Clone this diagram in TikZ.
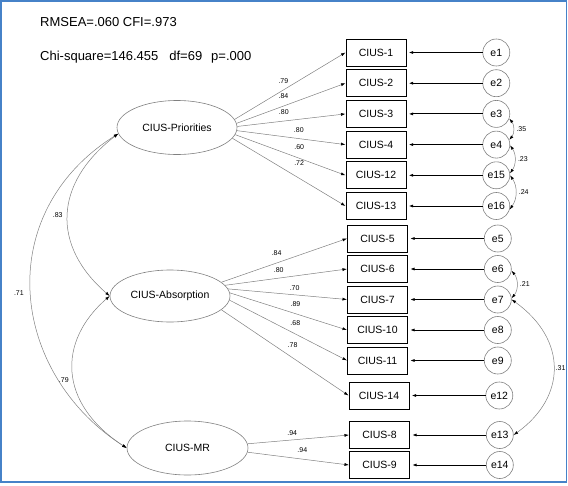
\documentclass[tikz,border=0pt]{standalone}
\usepackage{fontspec}
\setmainfont{Liberation Sans}
\usetikzlibrary{arrows.meta,positioning,shapes.geometric}

\definecolor{frameblue}{RGB}{70,130,200}

\begin{document}
\begin{tikzpicture}[
    x=1pt, y=-1pt,
    >={Latex[length=4.5pt,width=3pt]},
    item/.style={rectangle, draw, line width=1pt, minimum width=60pt, minimum height=27pt, inner sep=0pt, font=\fontsize{10.5}{12}\selectfont},
    factor/.style={ellipse, draw=gray, line width=0.6pt, minimum width=120pt, minimum height=54pt, inner sep=0pt, font=\fontsize{10.5}{12}\selectfont},
    errnode/.style={circle, draw=gray, line width=0.6pt, minimum size=27pt, inner sep=0pt, font=\fontsize{10.5}{12}\selectfont},
    load/.style={-{Latex[length=4.5pt,width=3pt,color=black]}, draw=gray, line width=0.5pt},
    errpath/.style={->, line width=1pt, shorten >=2pt},
    cov/.style={{Latex[length=4.5pt,width=3pt,color=black]}-{Latex[length=4.5pt,width=3pt,color=black]}, draw=gray, line width=0.5pt},
    coef/.style={font=\fontsize{7}{8}\selectfont, inner sep=1pt},
    fitstat/.style={anchor=base west, font=\fontsize{13}{15}\selectfont, inner sep=0pt}
    ]

    \useasboundingbox (0,0) rectangle (568,485);
    \draw[frameblue, line width=1.5pt] (0.75,0.75) rectangle (566.25,482);

    % Fit indices
    \node[fitstat] (fit1) at (40,26) {RMSEA=.060 CFI=.973};
    \node[fitstat] (fit2) at (40,60) {Chi-square=146.455\hspace{11pt}df=69\hspace{9pt}p=.000};

    % Latent factors
    \node[factor] (pri) at (177,127.5) {CIUS-Priorities};
    \node[factor, minimum height=52pt] (abs) at (170,296) {CIUS-Absorption};
    \node[factor, minimum width=121pt] (mr) at (187.5,448) {CIUS-MR};

    % Observed items: priorities
    \node[item] (b1) at (376,52.5) {CIUS-1};
    \node[item, below=2.7pt of b1] (b2) {CIUS-2};
    \node[item, below=2.7pt of b2] (b3) {CIUS-3};
    \node[item, below=2.7pt of b3] (b4) {CIUS-4};
    \node[item, below=2.7pt of b4] (b12) {CIUS-12};
    \node[item, below=2.7pt of b12] (b13) {CIUS-13};

    % Observed items: absorption
    \node[item] (b5) at (377.5,238.5) {CIUS-5};
    \node[item, below=2.5pt of b5] (b6) {CIUS-6};
    \node[item, below=2.5pt of b6] (b7) {CIUS-7};
    \node[item, below=2.5pt of b7] (b10) {CIUS-10};
    \node[item, below=2.5pt of b10] (b11) {CIUS-11};
    \node[item] (b14) at (379,395.5) {CIUS-14};

    % Observed items: MR
    \node[item] (b8) at (379.5,435) {CIUS-8};
    \node[item, below=2pt of b8] (b9) {CIUS-9};

    % Error terms
    \node[errnode, right=76pt of b1] (e1) {e1};
    \node[errnode, right=76pt of b2] (e2) {e2};
    \node[errnode, right=76pt of b3] (e3) {e3};
    \node[errnode, right=76pt of b4] (e4) {e4};
    \node[errnode, right=76pt of b12] (e15) {e15};
    \node[errnode, right=76pt of b13] (e16) {e16};
    \node[errnode, right=76pt of b5] (e5) {e5};
    \node[errnode, right=76pt of b6] (e6) {e6};
    \node[errnode, right=76pt of b7] (e7) {e7};
    \node[errnode, right=76pt of b10] (e8) {e8};
    \node[errnode, right=76pt of b11] (e9) {e9};
    \node[errnode, right=76pt of b14] (e12) {e12};
    \node[errnode, right=76pt of b8] (e13) {e13};
    \node[errnode, right=76pt of b9] (e14) {e14};

    % Loadings
    \draw[load] (pri.8) -- node[coef, pos=0.44, yshift=9pt] {.79} (b1.west);
    \draw[load] (pri.4) -- node[coef, pos=0.43, yshift=9.7pt] {.84} (b2.west);
    \draw[load] (pri.1) -- node[coef, pos=0.43, yshift=8.9pt] {.80} (b3.west);
    \draw[load] (pri.-3) -- node[coef, pos=0.57, yshift=8.2pt] {.80} (b4.west);
    \draw[load] (pri.-7) -- node[coef, pos=0.58, yshift=10.9pt] {.60} (b12.west);
    \draw[load] (pri.-11) -- node[coef, pos=0.59, yshift=14.8pt] {.72} (b13.west);

    \draw[load] (abs.15) -- node[coef, pos=0.44, yshift=9.5pt] {.84} (b5.west);
    \draw[load] (abs.11) -- node[coef, pos=0.44, yshift=8.3pt] {.80} (b6.west);
    \draw[load] (abs.7) -- node[coef, pos=0.56, yshift=6.8pt] {.70} (b7.west);
    \draw[load] (abs.3) -- node[coef, pos=0.56, yshift=9.5pt] {.89} (b10.west);
    \draw[load] (abs.-4) -- node[coef, pos=0.56, yshift=10.6pt] {.68} (b11.west);
    \draw[load] (abs.-15) -- node[coef, pos=0.56, yshift=12.3pt] {.78} (b14.west);

    \draw[load] (mr.4) -- node[coef, pos=0.44, yshift=6.8pt] {.94} (b8.west);
    \draw[load] (mr.-4) -- node[coef, pos=0.54, yshift=9.2pt] {.94} (b9.west);

    % Error paths
    \draw[errpath] (e1) -- (b1);
    \draw[errpath] (e2) -- (b2);
    \draw[errpath] (e3) -- (b3);
    \draw[errpath] (e4) -- (b4);
    \draw[errpath] (e15) -- (b12);
    \draw[errpath] (e16) -- (b13);
    \draw[errpath] (e5) -- (b5);
    \draw[errpath] (e6) -- (b6);
    \draw[errpath] (e7) -- (b7);
    \draw[errpath] (e8) -- (b10);
    \draw[errpath] (e9) -- (b11);
    \draw[errpath] (e12) -- (b14);
    \draw[errpath] (e13) -- (b8);
    \draw[errpath] (e14) -- (b9);

    % Factor correlations
    \draw[cov] (pri.186) .. controls +(-65,50) and +(-58,-50) .. (abs.180)
        node[coef, pos=0.5, left=4pt] {.83};
    \draw[cov] (pri.186) .. controls +(-127,80) and +(-117,-75) .. (mr.180)
        node[coef, pos=0.5, left=6pt] {.71};
    \draw[cov] (abs.180) .. controls +(-52,45) and +(-69,-45) .. (mr.180)
        node[coef, pos=0.55, left=4pt] {.79};

    % Error covariances
    \draw[cov] (e3.-20) to[bend left=40] node[coef, right=2pt] {.35} (e4.20);
    \draw[cov] (e4.-3) to[bend left=35] node[coef, right=2pt] {.23} (e15.8);
    \draw[cov] (e15.0) to[bend left=35] node[coef, right=2pt] {.24} (e16.-15);
    \draw[cov] (e6.-7) to[bend left=40] node[coef, right=2pt] {.21} (e7.5);
    \draw[cov] (e7.0) .. controls +(56,40) and +(53,-38) .. (e13.0)
        node[coef, pos=0.5, right=1pt] {.31};

\end{tikzpicture}
\end{document}
